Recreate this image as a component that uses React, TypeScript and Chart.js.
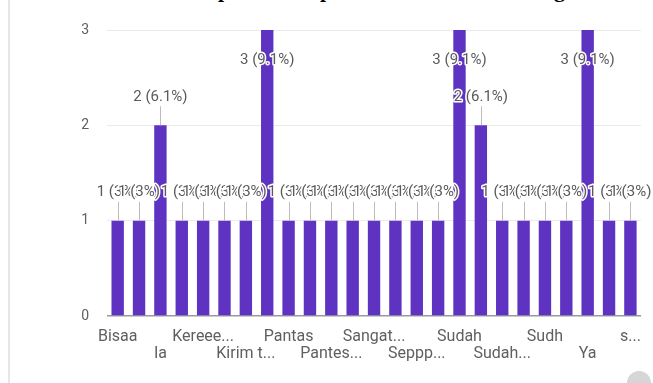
import React, { useEffect, useRef } from "react";
import { Chart, registerables } from "chart.js";

Chart.register(...registerables);

const categories = [
  "Bisaa", "Boleh", "Ia", "Iya", "Kereee...", "Keren", "Kirim t...", "Mantap",
  "Pantas", "Pantas sekali", "Pantes...", "Sangat", "Sangat...", "Sangat setuju",
  "Seppp...", "Setuju", "Sudah", "Sudah.", "Sudah...", "Sudah ya", "Sudh", "Tidak",
  "Ya", "Yaa", "s...",
];
const counts = [1, 1, 2, 1, 1, 1, 1, 3, 1, 1, 1, 1, 1, 1, 1, 1, 3, 2, 1, 1, 1, 1, 3, 1, 1];
const yMax = 3;

const total = counts.reduce((a, b) => a + b, 0);
const pctLabel = (v: number) => `${v} (${parseFloat(((v / total) * 100).toFixed(1))}%)`;

const annotationPlugin = {
  id: "annot",
  afterDatasetsDraw(chart: any) {
    const ctx = chart.ctx;
    const meta = chart.getDatasetMeta(0);
    const area = chart.chartArea;
    ctx.save();
    ctx.font = "15px Roboto";
    ctx.textAlign = "center";
    ctx.textBaseline = "middle";
    ctx.lineJoin = "round";
    meta.data.forEach((bar: any, i: number) => {
      const text = pctLabel(counts[i]);
      const x = bar.x;
      const top = bar.y;
      let ty: number;
      if (top - 30 < area.top) {
        ty = top + 30;
      } else {
        ty = top - 28;
        ctx.strokeStyle = "#bcbcbc";
        ctx.lineWidth = 1;
        ctx.beginPath();
        ctx.moveTo(Math.round(x) + 0.5, top);
        ctx.lineTo(Math.round(x) + 0.5, top - 19);
        ctx.stroke();
      }
      ctx.strokeStyle = "#ffffff";
      ctx.lineWidth = 3;
      ctx.strokeText(text, x, ty);
      ctx.fillStyle = "#5a5a5a";
      ctx.fillText(text, x, ty);
    });
    ctx.restore();
  },
};

export default function App() {
  const ref = useRef<HTMLCanvasElement>(null);
  useEffect(() => {
    if (!ref.current) return;
    const chart = new Chart(ref.current, {
      type: "bar",
      data: {
        labels: categories,
        datasets: [
          {
            data: counts,
            backgroundColor: "#5e33c2",
            barPercentage: 0.58,
            categoryPercentage: 1,
          },
        ],
      },
      options: {
        responsive: false,
        animation: false,
        devicePixelRatio: 1,
        layout: { padding: { top: 30, right: 7, bottom: 0, left: 0 } },
        plugins: { legend: { display: false }, tooltip: { enabled: false } },
        scales: {
          x: {
            grid: { display: false, drawTicks: false },
            border: { display: false },
            ticks: {
              autoSkip: false,
              maxRotation: 0,
              minRotation: 0,
              padding: 12,
              color: "#5f5f5f",
              font: { family: "Roboto", size: 16, lineHeight: "17px" },
              callback: (_v: any, i: number) =>
                i % 4 === 0 ? categories[i] : i % 4 === 2 ? ["", categories[i]] : "",
            },
            afterFit: (s: any) => {
              s.height = 67;
            },
          },
          y: {
            min: 0,
            max: yMax,
            ticks: {
              stepSize: 1,
              padding: 18,
              color: "#5f5f5f",
              font: { family: "Roboto", size: 14 },
            },
            grid: {
              drawTicks: false,
              color: (c: any) => (c.tick && c.tick.value === 0 ? "#9a9a9a" : "#ebebeb"),
              lineWidth: (c: any) => (c.tick && c.tick.value === 0 ? 1.5 : 1),
            },
            border: { display: false },
            afterFit: (s: any) => {
              s.width = 107;
            },
          },
        },
      },
      plugins: [annotationPlugin],
    });
    return () => chart.destroy();
  }, []);

  const desc: React.CSSProperties = {
    position: "absolute",
    top: -21,
    font: "bold 22px 'Liberation Serif'",
    lineHeight: "22px",
    color: "#000",
  };

  return (
    <div style={{ position: "absolute", left: 0, top: 0, width: 653, height: 383, overflow: "hidden", background: "#fff" }}>
      <div style={{ position: "absolute", left: 8, top: 0, width: 2, height: 383, background: "#e6e6e6" }} />
      <span style={{ ...desc, left: 218 }}>p</span>
      <span style={{ ...desc, left: 320 }}>p</span>
      <span style={{ ...desc, left: 554 }}>g</span>
      <canvas ref={ref} width={653} height={383} style={{ position: "absolute", left: 0, top: 0, filter: "blur(0.4px)" }} />
      <div style={{ position: "absolute", left: 627, top: 371, width: 24, height: 24, borderRadius: "50%", background: "#d6d6d6" }} />
    </div>
  );
}
